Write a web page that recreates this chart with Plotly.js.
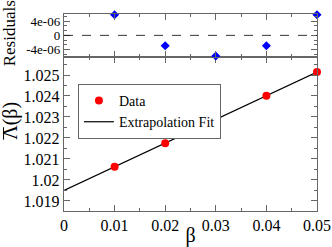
<!DOCTYPE html>
<html>
<head>
<meta charset="utf-8">
<script src="https://cdn.plot.ly/plotly-3.0.1.min.js"></script>
<style>html,body{margin:0;padding:0;background:#fff;}#chart{width:332px;height:247px;}</style>
</head>
<body>
<div id="chart"></div>
<script>
const beta = [0.01, 0.02, 0.03, 0.04, 0.05];
const lambdaBar = [1.02063, 1.021748, 1.02289, 1.02401, 1.025143];
const residuals = [5.8e-6, -2.9e-6, -5.8e-6, -2.9e-6, 5.8e-6];
const fitX = [0, 0.05];
const fitY = [1.0195, 1.02514];
const xTicks = [0, 0.01, 0.02, 0.03, 0.04, 0.05];
const xTickText = ['0', '0.01', '0.02', '0.03', '0.04', '0.05'];
const yTicks = [1.019, 1.02, 1.021, 1.022, 1.023, 1.024, 1.025];
const yTickText = ['1.019', '1.02', '1.021', '1.022', '1.023', '1.024', '1.025'];
const rTicks = [-4e-6, 0, 4e-6];
const rTickText = ['-4e-06', '0', '4e-06'];

const font = 'Times New Roman, Liberation Serif, DejaVu Serif, serif';
const axisColor = '#666';

const traces = [
  {x: fitX, y: fitY, mode: 'lines', name: 'Extrapolation Fit', xaxis: 'x', yaxis: 'y',
   line: {color: '#000', width: 1.2}, showlegend: true},
  {x: beta, y: lambdaBar, mode: 'markers', name: 'Data', xaxis: 'x', yaxis: 'y',
   marker: {color: '#ff0000', size: 8, symbol: 'circle'}, cliponaxis: false},
  {x: beta, y: residuals, mode: 'markers', name: 'Residuals', xaxis: 'x2', yaxis: 'y2',
   marker: {color: '#0000ff', size: 7, symbol: 'diamond'}, cliponaxis: false, showlegend: false}
];

const common = {
  showline: true, linecolor: axisColor, linewidth: 1.2, mirror: 'ticks',
  ticks: 'inside', ticklen: 6, tickcolor: axisColor, tickwidth: 1,
  showgrid: false, zeroline: false,
  tickfont: {family: font, size: 16, color: '#000'}
};

const layout = {
  width: 332, height: 247,
  margin: {l: 64, r: 15, t: 14, b: 36},
  paper_bgcolor: '#fff', plot_bgcolor: '#fff',
  font: {family: font, size: 14, color: '#000'},
  xaxis: Object.assign({}, common, {
    domain: [0, 1], anchor: 'y', range: [0, 0.05],
    tickvals: xTicks, ticktext: xTickText,
    minor: {ticks: 'inside', ticklen: 3, dtick: 0.005, tickcolor: axisColor, showgrid: false},
    title: {text: 'β', font: {family: font, size: 20}, standoff: 0}
  }),
  yaxis: Object.assign({}, common, {
    domain: [0, 0.783], anchor: 'x', range: [1.01852, 1.02587],
    tickvals: yTicks, ticktext: yTickText,
    minor: {ticks: 'inside', ticklen: 3, dtick: 0.0005, tickcolor: axisColor, showgrid: false}
  }),
  xaxis2: Object.assign({}, common, {
    domain: [0, 1], anchor: 'y2', range: [0, 0.05], matches: 'x',
    tickvals: xTicks, showticklabels: false,
    minor: {ticks: 'inside', ticklen: 3, dtick: 0.005, tickcolor: axisColor, showgrid: false}
  }),
  yaxis2: Object.assign({}, common, {
    domain: [0.783, 1], anchor: 'x2', range: [-6e-6, 6e-6],
    tickvals: rTicks, ticktext: rTickText,
    tickfont: {family: font, size: 13, color: '#000'},
    minor: {ticks: 'inside', ticklen: 3, dtick: 4e-6 / 3, tickcolor: axisColor, showgrid: false}
  }),
  shapes: [
    {type: 'line', xref: 'x2 domain', x0: 0, x1: 1, yref: 'y2', y0: 0, y1: 0,
     line: {color: '#000', width: 0.8, dash: 'dash'}},
    {type: 'line', xref: 'paper', yref: 'paper', x0: -0.239, x1: -0.239, y0: 0.362, y1: 0.425,
     line: {color: '#000', width: 1}}
  ],
  annotations: [
    {text: 'Residuals', xref: 'paper', yref: 'paper', x: -0.215, y: 0.9,
     xanchor: 'center', yanchor: 'middle', textangle: -90, showarrow: false,
     font: {family: font, size: 17, color: '#000'}},
    {text: 'Λ(β)', xref: 'paper', yref: 'paper', x: -0.21, y: 0.457,
     xanchor: 'center', yanchor: 'middle', textangle: -90, showarrow: false,
     font: {family: font, size: 20, color: '#000'}}
  ],
  legend: {
    x: 0.055, y: 0.645, xanchor: 'left', yanchor: 'top',
    bgcolor: '#fff', bordercolor: axisColor, borderwidth: 1,
    font: {family: font, size: 14, color: '#000'},
    itemwidth: 30, tracegroupgap: 0, traceorder: 'reversed'
  },
  showlegend: true
};

Plotly.newPlot('chart', traces, layout, {displayModeBar: false, staticPlot: true});
</script>
</body>
</html>
